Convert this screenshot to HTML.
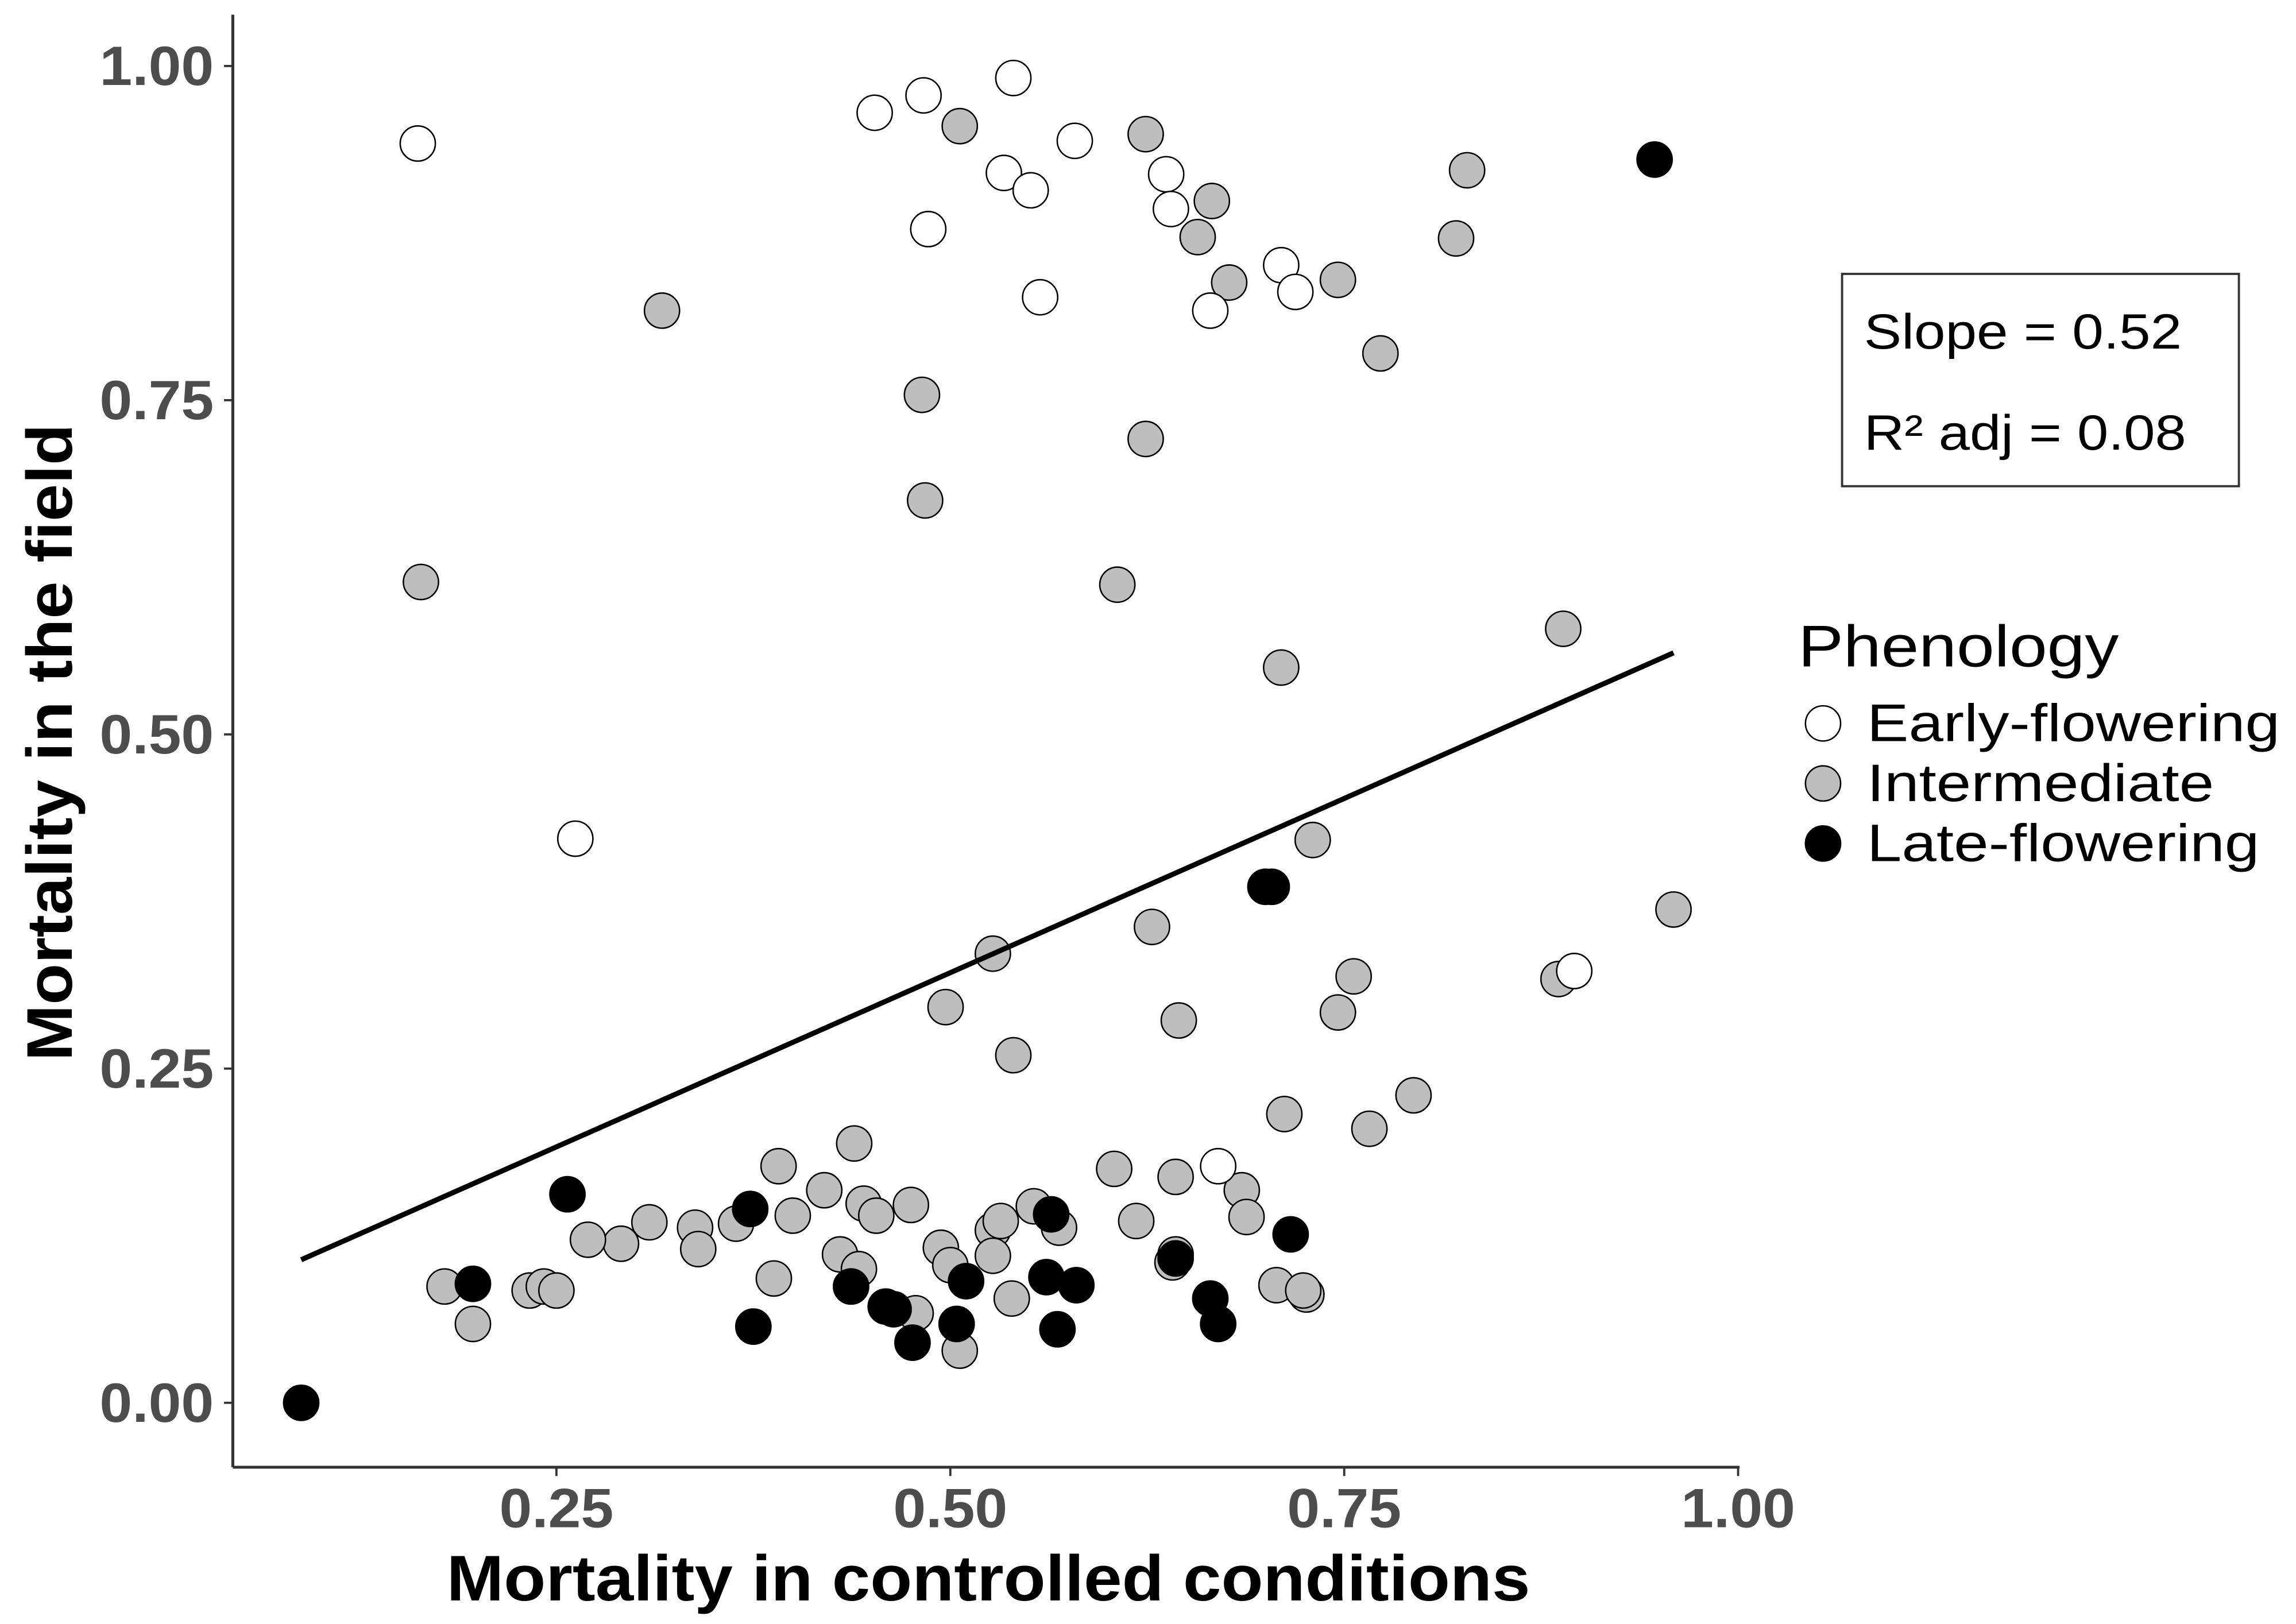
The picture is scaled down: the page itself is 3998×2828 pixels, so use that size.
<!DOCTYPE html>
<html><head><meta charset="utf-8"><style>html,body{margin:0;padding:0;background:#fff}svg{display:block}text{font-family:"Liberation Sans",Arial,sans-serif}</style></head>
<body>
<svg id="chart" width="3998" height="2828" viewBox="0 0 1568 1109" xmlns="http://www.w3.org/2000/svg">
<rect x="0" y="0" width="1568" height="1109" fill="#fff"/>
<g id="plot"></g>
<g id="axes"></g>
<text x="675" y="1093" font-size="44" font-weight="bold" text-anchor="middle" fill="#000" textLength="740" lengthAdjust="spacingAndGlyphs">Mortality in controlled conditions</text>
<text x="0" y="0" transform="translate(49,507) rotate(-90)" font-size="44" font-weight="bold" text-anchor="middle" fill="#000" textLength="435" lengthAdjust="spacingAndGlyphs">Mortality in the field</text>
<g>
<rect x="1258" y="187" width="271" height="145" fill="#fff" stroke="#333" stroke-width="1.5"/>
<text x="1273" y="238" font-size="34" fill="#000" textLength="217" lengthAdjust="spacingAndGlyphs">Slope = 0.52</text>
<text x="1273" y="307" font-size="34" fill="#000" textLength="220" lengthAdjust="spacingAndGlyphs">R² adj = 0.08</text>
</g>
<g>
<text x="1228" y="455" font-size="40" fill="#000" textLength="219" lengthAdjust="spacingAndGlyphs">Phenology</text>
<circle cx="1245" cy="494" r="12" fill="#fff" stroke="#000" stroke-width="1"/>
<text x="1275" y="506" font-size="36" fill="#000" textLength="282" lengthAdjust="spacingAndGlyphs">Early-flowering</text>
<circle cx="1245" cy="535" r="12" fill="#bebebe" stroke="#000" stroke-width="1"/>
<text x="1275" y="547" font-size="36" fill="#000" textLength="237" lengthAdjust="spacingAndGlyphs">Intermediate</text>
<circle cx="1245" cy="576" r="12" fill="#000" stroke="#000" stroke-width="1"/>
<text x="1275" y="588" font-size="36" fill="#000" textLength="268" lengthAdjust="spacingAndGlyphs">Late-flowering</text>
</g>
</svg>
<script>
const xTicks=[0.25,0.50,0.75,1.00];
const xTickLabels=["0.25","0.50","0.75","1.00"];
const yTicks=[0,0.25,0.5,0.75,1.0];
const yTickLabels=["0.00","0.25","0.50","0.75","1.00"];
const earlyX=[0.162,0.452,0.483,0.540,0.579,0.534,0.551,0.486,0.637,0.640,0.557,0.665,0.710,0.719,0.262,0.896,0.670];
const earlyY=[0.942,0.965,0.978,0.991,0.944,0.920,0.907,0.878,0.919,0.893,0.827,0.817,0.851,0.831,0.422,0.323,0.177];
const interX=[0.506,0.624,0.666,0.657,0.677,0.746,0.828,0.821,0.773,0.317,0.482,0.624,0.484,0.606,0.164,0.889,0.710,0.730,0.959,0.886,0.756,0.746,0.628,0.527,0.497,0.645,0.540,0.794,0.766,0.712,0.439,0.391,0.420,0.445,0.453,0.475,0.400,0.364,0.338,0.340,0.309,0.291,0.270,0.179,0.197,0.233,0.242,0.250,0.388,0.430,0.442,0.494,0.500,0.478,0.506,0.527,0.532,0.527,0.553,0.569,0.539,0.604,0.618,0.643,0.641,0.643,0.685,0.688,0.707,0.726,0.724];
const interY=[0.955,0.949,0.899,0.872,0.838,0.840,0.922,0.871,0.785,0.817,0.754,0.721,0.675,0.612,0.614,0.579,0.550,0.421,0.369,0.317,0.319,0.292,0.356,0.336,0.296,0.286,0.260,0.230,0.205,0.216,0.194,0.177,0.159,0.149,0.140,0.148,0.140,0.134,0.131,0.115,0.135,0.119,0.122,0.087,0.059,0.084,0.087,0.084,0.093,0.111,0.100,0.116,0.103,0.067,0.039,0.129,0.136,0.110,0.147,0.131,0.078,0.175,0.136,0.169,0.105,0.111,0.159,0.139,0.088,0.081,0.084];
const lateX=[0.947,0.088,0.257,0.197,0.373,0.375,0.437,0.459,0.464,0.476,0.504,0.510,0.564,0.561,0.568,0.580,0.643,0.665,0.670,0.700,0.704,0.716];
const lateY=[0.930,0.000,0.156,0.089,0.145,0.057,0.087,0.072,0.070,0.045,0.059,0.091,0.141,0.094,0.055,0.088,0.108,0.078,0.059,0.386,0.386,0.126];
const fitX=[0.088,0.959];
const fitY=[0.107,0.561];

const NS="http://www.w3.org/2000/svg";
function sx(v){return 380+(v-0.25)*1076;}
function sy(v){return 958-v*913;}
function mk(tag,attrs,parent){const e=document.createElementNS(NS,tag);for(const k in attrs)e.setAttribute(k,attrs[k]);parent.appendChild(e);return e;}
const axes=document.getElementById('axes');
const plot=document.getElementById('plot');
let a=mk('line',{x1:159,y1:1002,x2:1188,y2:1002,stroke:'#333','stroke-width':2},axes);


a=mk('line',{x1:159,y1:10,x2:159,y2:1002,stroke:'#333','stroke-width':2},axes);


xTicks.forEach((v,i)=>{
  const t=mk('line',{x1:sx(v),y1:1002,x2:sx(v),y2:1008,stroke:'#333','stroke-width':1.5},axes);
  
  
  const l=mk('text',{x:sx(v),y:1043,'font-size':38,'font-weight':'bold','text-anchor':'middle',fill:'#4d4d4d',textLength:78,lengthAdjust:'spacingAndGlyphs'},axes);
  l.textContent=xTickLabels[i];
  
  
});
yTicks.forEach((v,i)=>{
  const t=mk('line',{x1:153,y1:sy(v),x2:159,y2:sy(v),stroke:'#333','stroke-width':1.5},axes);
  
  
  const l=mk('text',{x:146,y:sy(v)+13,'font-size':38,'font-weight':'bold','text-anchor':'end',fill:'#4d4d4d',textLength:78,lengthAdjust:'spacingAndGlyphs'},axes);
  l.textContent=yTickLabels[i];
  
  
});
function drawSeries(xs,ys,fill,name){
  xs.forEach((x,i)=>{
    const c=mk('circle',{cx:sx(x),cy:sy(ys[i]),r:12,fill:fill,stroke:'#000','stroke-width':1},plot);
    
    
  });
}
drawSeries(interX,interY,'#bebebe','point-intermediate');
drawSeries(earlyX,earlyY,'#fff','point-early');
drawSeries(lateX,lateY,'#000','point-late');
const fl=mk('line',{x1:sx(fitX[0]),y1:sy(fitY[0]),x2:sx(fitX[1]),y2:sy(fitY[1]),stroke:'#000','stroke-width':3.5},plot);


</script>
</body></html>
